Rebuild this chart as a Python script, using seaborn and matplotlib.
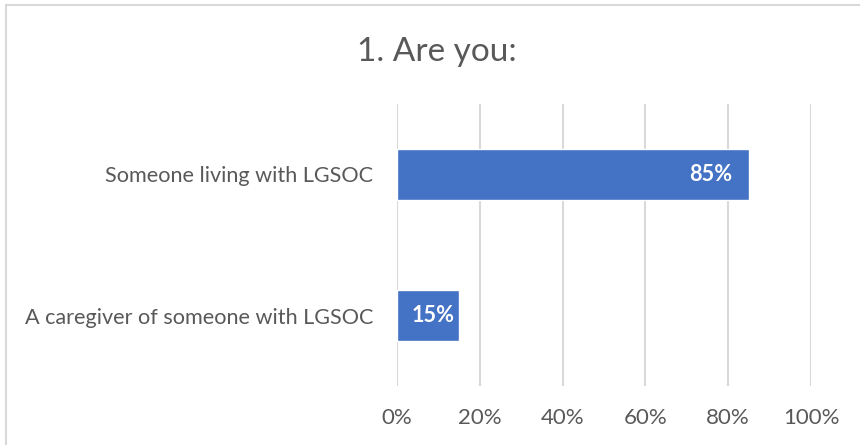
import matplotlib
matplotlib.use("Agg")
import matplotlib.pyplot as plt
import seaborn as sns
import pandas as pd
from matplotlib.patches import Rectangle
from matplotlib.ticker import PercentFormatter

categories = ["Someone living with LGSOC", "A caregiver of someone with LGSOC"]
shares = [85, 15]
title = "1. Are you:"
ticks = [0, 20, 40, 60, 80, 100]

sns.set_theme(style="white")
plt.rcParams["font.family"] = ["Lato", "DejaVu Sans"]

text_gray = "#595959"
grid_gray = "#d9d9d9"
bar_blue = "#4472C4"

df = pd.DataFrame({"category": categories, "share": shares})

fig = plt.figure(figsize=(8.6, 4.45), dpi=100)
ax = fig.add_axes([397 / 860, 1 - 386 / 445, (811 - 397) / 860, (386 - 104) / 445])

sns.barplot(data=df, x="share", y="category", orient="h", color=bar_blue,
            width=0.355, saturation=1, ax=ax, zorder=3)

ax.set_xlim(0, 100)
ax.set_ylim(1.5, -0.5)
ax.set_xticks(ticks)
ax.xaxis.set_major_formatter(PercentFormatter(decimals=0))
ax.grid(axis="x", color=grid_gray, linewidth=1.5, zorder=0)
ax.grid(axis="y", visible=False)
for s in ax.spines.values():
    s.set_visible(False)
ax.set_xlabel("")
ax.set_ylabel("")
ax.tick_params(axis="x", length=0, pad=16, labelsize=16, labelcolor=text_gray)
ax.tick_params(axis="y", length=0, pad=17, labelsize=15.6, labelcolor=text_gray)

# value labels inside the bar ends
for i, v in enumerate(shares):
    off = -12 if v > 30 else -3.5
    ax.annotate(f"{v}%", xy=(v, i), xytext=(off, 0), textcoords="offset points",
                ha="right", va="center", color="white", fontsize=15.6,
                fontweight="bold", zorder=4)

fig.text((357 + 517) / 2 / 860, 1 - 52 / 445, title, ha="center", va="center",
         fontsize=24, color=text_gray)

# chart-area border
fig.patches.append(Rectangle((6 / 860, -0.1), 1.2, 1 - 5 / 445 + 0.1,
                             transform=fig.transFigure, fill=False,
                             edgecolor=grid_gray, linewidth=1.5))

fig.savefig("out.png", dpi=100, facecolor="white")
